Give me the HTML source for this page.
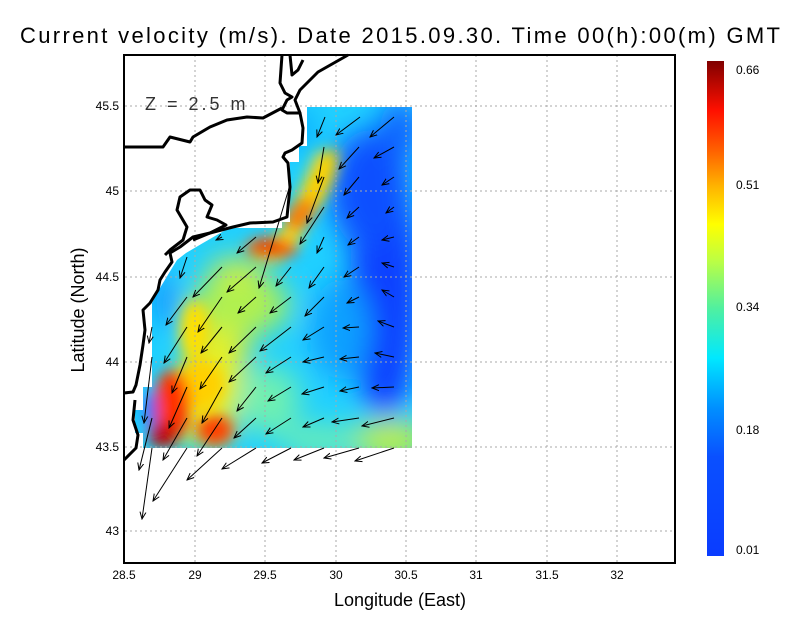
<!DOCTYPE html>
<html><head><meta charset="utf-8"><style>
body{margin:0;background:#fff;}
svg text{font-family:"Liberation Sans",sans-serif;}
</style></head><body>
<svg width="800" height="618" viewBox="0 0 800 618" xmlns="http://www.w3.org/2000/svg">
<defs>
<clipPath id="dc"><polygon points="307,107 412,107 412,448 143,448 143,433 135,433 135,410 143,410 143,387 152,387 152,303 160,288 169,273 177,260 186,253 203,243 229,228 282,228 282,222 290,222 290,162 299,162 299,146 307,146"/></clipPath>
<filter id="bl" x="-50%" y="-50%" width="200%" height="200%"><feGaussianBlur stdDeviation="14"/></filter>
<filter id="bl2" x="-50%" y="-50%" width="200%" height="200%"><feGaussianBlur stdDeviation="7"/></filter>
<linearGradient id="cb" x1="0" y1="1" x2="0" y2="0">
<stop offset="0" stop-color="#0a3cff"/><stop offset="0.2" stop-color="#0a50ff"/><stop offset="0.3" stop-color="#0090ff"/><stop offset="0.4" stop-color="#00e8ff"/><stop offset="0.5" stop-color="#50f0a0"/><stop offset="0.6" stop-color="#c0ff40"/><stop offset="0.67" stop-color="#ffff00"/><stop offset="0.75" stop-color="#ffb000"/><stop offset="0.82" stop-color="#ff6000"/><stop offset="0.9" stop-color="#ff1000"/><stop offset="1" stop-color="#800000"/></linearGradient>
<marker id="ah" markerWidth="8" markerHeight="8" refX="7" refY="4" orient="auto" markerUnits="userSpaceOnUse"><path d="M0,1 L7,4 L0,7" fill="none" stroke="#000" stroke-width="1"/></marker>
</defs>
<g clip-path="url(#dc)">
<rect x="120" y="100" width="300" height="360" fill="#20d0ff"/>
<g filter="url(#bl)">
<ellipse cx="385" cy="290" rx="35" ry="130" fill="#0840ff"/>
<ellipse cx="370" cy="190" rx="40" ry="60" fill="#0a50ff"/>
<ellipse cx="400" cy="130" rx="20" ry="30" fill="#0a60ff"/>
<ellipse cx="340" cy="330" rx="30" ry="50" fill="#10a0ff"/>
<polygon points="215,260 265,260 230,440 165,440" fill="#e8f020"/>
<ellipse cx="240" cy="305" rx="50" ry="30" fill="#b0f050"/>
<ellipse cx="270" cy="400" rx="30" ry="35" fill="#70f0b0"/>
<ellipse cx="390" cy="440" rx="40" ry="20" fill="#c0f040"/>
<ellipse cx="320" cy="440" rx="40" ry="15" fill="#70f0b0"/>
<ellipse cx="165" cy="300" rx="10" ry="25" fill="#1080ff"/>
<ellipse cx="300" cy="130" rx="12" ry="20" fill="#10a0ff"/>
</g>
<g filter="url(#bl2)">
<polygon points="318,150 332,158 300,240 280,262 255,262 285,225" fill="#f0f020"/>
<ellipse cx="318" cy="185" rx="12" ry="40" fill="#ffd000" transform="rotate(25 318 185)"/>
<ellipse cx="300" cy="215" rx="12" ry="20" fill="#ff8000" transform="rotate(35 300 215)"/>
<ellipse cx="272" cy="248" rx="26" ry="11" fill="#ff6000"/>
<ellipse cx="268" cy="248" rx="10" ry="6" fill="#e02000"/>
<ellipse cx="195" cy="330" rx="15" ry="30" fill="#ffe000"/>
<ellipse cx="200" cy="385" rx="25" ry="25" fill="#ffd000"/>
<ellipse cx="172" cy="405" rx="18" ry="35" fill="#ff3000"/>
<ellipse cx="163" cy="435" rx="14" ry="12" fill="#c00000"/>
<ellipse cx="215" cy="430" rx="18" ry="15" fill="#ff4000"/>
<ellipse cx="150" cy="410" rx="6" ry="18" fill="#2060ff"/>
</g>
</g>
<g stroke="#aaa" stroke-width="1" stroke-dasharray="2,3">
<line x1="195" y1="55" x2="195" y2="562"/><line x1="265" y1="55" x2="265" y2="562"/><line x1="336" y1="55" x2="336" y2="562"/><line x1="406" y1="55" x2="406" y2="562"/><line x1="476" y1="55" x2="476" y2="562"/><line x1="547" y1="55" x2="547" y2="562"/><line x1="617" y1="55" x2="617" y2="562"/>
<line x1="125" y1="106" x2="674" y2="106"/><line x1="125" y1="191" x2="674" y2="191"/><line x1="125" y1="277" x2="674" y2="277"/><line x1="125" y1="362" x2="674" y2="362"/><line x1="125" y1="447" x2="674" y2="447"/><line x1="125" y1="531" x2="674" y2="531"/>
</g>
<g fill="none" stroke="#000" stroke-width="3" stroke-linejoin="round">
<polyline points="282,55 280,83 285,93 292,97 287,100 282,110 287,113 300,113 303,128 302,143 292,150 285,153 283,157 288,163 290,187 287,217 273,222 250,223 233,227 210,233 193,237 180,247 170,253 172,262 165,272 160,280 158,290 150,303 143,310 145,330 143,345 140,365 136,385 133,392 124,393"/>
<polyline points="282,108 263,118 247,117 227,120 210,127 193,137 190,142 170,137 163,147 150,147 125,147"/>
<polyline points="193,240 210,233 226,225 217,220 207,217 212,205 205,200 200,190 190,190 180,197 177,210 187,227 183,240 170,250 165,255"/>
<polyline points="300,113 295,100 300,90 318,72 348,55"/>
<polyline points="290,55 292,75 298,70 303,60"/>
<polyline points="135,400 133,420 138,435 136,448 124,460"/>
</g>
<g stroke="#000" stroke-width="1" marker-end="url(#ah)">
<line x1="325" y1="117" x2="317" y2="137"/><line x1="360" y1="117" x2="336" y2="135"/><line x1="394" y1="117" x2="370" y2="137"/>
<line x1="324" y1="147" x2="318" y2="183"/><line x1="359" y1="147" x2="339" y2="169"/><line x1="394" y1="147" x2="374" y2="158"/>
<line x1="324" y1="177" x2="307" y2="223"/><line x1="359" y1="177" x2="344" y2="195"/><line x1="394" y1="177" x2="382" y2="185"/>
<line x1="290" y1="185" x2="259" y2="288"/>
<line x1="324" y1="207" x2="300" y2="244"/><line x1="359" y1="207" x2="347" y2="218"/><line x1="394" y1="207" x2="386" y2="213"/>
<line x1="222" y1="237" x2="216" y2="240"/><line x1="256" y1="237" x2="237" y2="253"/><line x1="324" y1="237" x2="317" y2="253"/><line x1="359" y1="237" x2="348" y2="245"/><line x1="394" y1="237" x2="382" y2="240"/>
<line x1="187" y1="257" x2="180" y2="278"/><line x1="222" y1="267" x2="193" y2="297"/><line x1="256" y1="267" x2="227" y2="292"/><line x1="291" y1="267" x2="276" y2="286"/><line x1="324" y1="267" x2="309" y2="288"/><line x1="359" y1="267" x2="344" y2="277"/><line x1="394" y1="267" x2="382" y2="263"/>
<line x1="187" y1="297" x2="166" y2="325"/><line x1="222" y1="297" x2="198" y2="332"/><line x1="256" y1="297" x2="238" y2="313"/><line x1="291" y1="297" x2="270" y2="313"/><line x1="324" y1="297" x2="305" y2="316"/><line x1="359" y1="297" x2="347" y2="303"/><line x1="394" y1="297" x2="382" y2="290"/>
<line x1="152" y1="327" x2="149" y2="343"/><line x1="187" y1="327" x2="164" y2="363"/><line x1="222" y1="327" x2="201" y2="353"/><line x1="256" y1="327" x2="229" y2="353"/><line x1="291" y1="327" x2="260" y2="351"/><line x1="324" y1="327" x2="303" y2="340"/><line x1="359" y1="327" x2="343" y2="328"/><line x1="394" y1="327" x2="378" y2="321"/>
<line x1="152" y1="357" x2="144" y2="423"/><line x1="187" y1="357" x2="172" y2="393"/><line x1="222" y1="357" x2="200" y2="389"/><line x1="256" y1="357" x2="229" y2="382"/><line x1="291" y1="357" x2="266" y2="373"/><line x1="324" y1="357" x2="303" y2="362"/><line x1="359" y1="357" x2="340" y2="359"/><line x1="394" y1="357" x2="375" y2="353"/>
<line x1="187" y1="387" x2="169" y2="428"/><line x1="222" y1="387" x2="202" y2="423"/><line x1="256" y1="387" x2="237" y2="411"/><line x1="291" y1="387" x2="268" y2="401"/><line x1="324" y1="387" x2="302" y2="394"/><line x1="359" y1="387" x2="340" y2="391"/><line x1="394" y1="387" x2="372" y2="388"/>
<line x1="152" y1="418" x2="139" y2="470"/><line x1="187" y1="418" x2="163" y2="460"/><line x1="222" y1="418" x2="197" y2="456"/><line x1="256" y1="418" x2="234" y2="438"/><line x1="291" y1="418" x2="266" y2="434"/><line x1="324" y1="418" x2="303" y2="427"/><line x1="359" y1="418" x2="332" y2="422"/><line x1="394" y1="418" x2="362" y2="426"/>
<line x1="152" y1="448" x2="142" y2="519"/><line x1="187" y1="448" x2="153" y2="501"/><line x1="222" y1="448" x2="187" y2="480"/><line x1="256" y1="448" x2="222" y2="469"/><line x1="291" y1="448" x2="262" y2="463"/><line x1="324" y1="448" x2="294" y2="460"/><line x1="359" y1="448" x2="324" y2="458"/><line x1="394" y1="448" x2="355" y2="461"/>
</g>
<rect x="124" y="55" width="551" height="508" fill="none" stroke="#000" stroke-width="2"/>
<text x="145" y="110" font-size="18" fill="#333" letter-spacing="3">Z = 2.5 m</text>
<rect x="707" y="61" width="17" height="495" fill="url(#cb)"/>
<g font-size="12" fill="#000">
<text x="736" y="74">0.66</text><text x="736" y="189">0.51</text><text x="736" y="311">0.34</text><text x="736" y="434">0.18</text><text x="736" y="554">0.01</text>
</g>
<g font-size="12" fill="#000" text-anchor="middle">
<text x="124" y="579">28.5</text><text x="195" y="579">29</text><text x="265" y="579">29.5</text><text x="336" y="579">30</text><text x="406" y="579">30.5</text><text x="476" y="579">31</text><text x="547" y="579">31.5</text><text x="617" y="579">32</text>
</g>
<g font-size="12" fill="#000" text-anchor="end">
<text x="119" y="110">45.5</text><text x="119" y="195">45</text><text x="119" y="281">44.5</text><text x="119" y="366">44</text><text x="119" y="451">43.5</text><text x="119" y="535">43</text>
</g>
<text x="400" y="43" font-size="22" text-anchor="middle" fill="#000" textLength="760">Current velocity (m/s). Date 2015.09.30. Time 00(h):00(m) GMT</text>
<text x="400" y="606" font-size="18" text-anchor="middle" fill="#000">Longitude (East)</text>
<text x="0" y="0" font-size="18" text-anchor="middle" fill="#000" transform="translate(84,310) rotate(-90)">Latitude (North)</text>
</svg>
</body></html>
